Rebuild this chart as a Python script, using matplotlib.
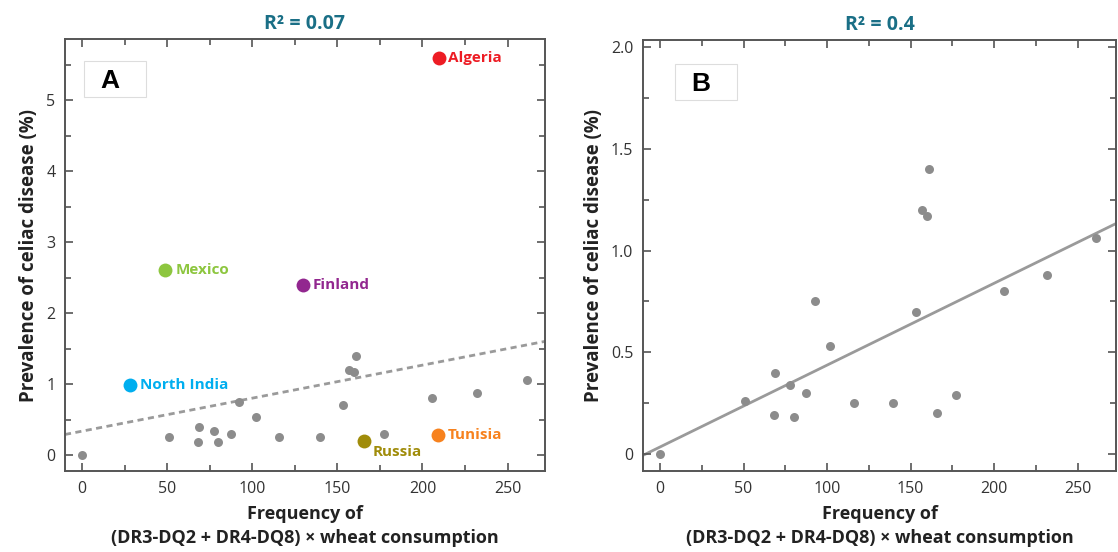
import numpy as np
import matplotlib
matplotlib.use("Agg")
import matplotlib.pyplot as plt
from matplotlib.patches import Rectangle
from matplotlib.ticker import MultipleLocator

plt.rcParams['font.family'] = ['Open Sans', 'DejaVu Sans']

# grey countries (used in both panels)
grey_x = [0, 51, 68, 69, 77.6, 80, 87.5, 92.5, 102, 116, 139.7, 153.5,
          156.7, 159.6, 160.9, 177.4, 205.7, 231.8, 261.3]
grey_y = [0, 0.26, 0.19, 0.40, 0.34, 0.18, 0.30, 0.75, 0.53, 0.25, 0.25, 0.70,
          1.20, 1.17, 1.40, 0.29, 0.80, 0.88, 1.06]

# highlighted countries (panel A)
named = ["Algeria", "Mexico", "Finland", "North India", "Russia", "Tunisia"]
named_x = [209.5, 49, 129.6, 28.1, 165.8, 209.3]
named_y = [5.59, 2.60, 2.40, 0.99, 0.20, 0.285]
named_col = ["#ed1c24", "#8dc63f", "#92278f", "#00aeef", "#a08c0a", "#f7821e"]

# panel B keeps Russia as an ordinary point
b_x = grey_x + [165.8]
b_y = grey_y + [0.20]

# fitted lines as drawn in the figure (intercept, slope)
fit_a = (0.336, 0.00465)
fit_b = (0.035, 0.00402)
r2_a = "0.07"
r2_b = "0.4"

GREY = "#8c8c8c"
SPINE = "#555555"
TEAL = "#1a6f86"

fig = plt.figure(figsize=(11.18, 5.52), dpi=100)
axA = fig.add_axes([65/1118, 81/552, 480/1118, 432/552])
axB = fig.add_axes([643/1118, 81/552, 473/1118, 431/552])


def style(ax):
    for s in ax.spines.values():
        s.set_color(SPINE)
        s.set_linewidth(1.4)
    ax.tick_params(which='both', direction='in', top=True, right=True,
                   color=SPINE, width=1.2, labelsize=11.5, labelcolor='#333333', pad=7)
    ax.tick_params(which='major', length=6)
    ax.tick_params(which='minor', length=4)
    ax.xaxis.set_major_locator(MultipleLocator(50))
    ax.xaxis.set_minor_locator(MultipleLocator(25))
    ax.set_xlabel("Frequency of\n(DR3-DQ2 + DR4-DQ8) × wheat consumption",
                  fontsize=13, fontweight='bold', color='#222222', labelpad=6,
                  linespacing=1.45)
    ax.set_ylabel("Prevalence of celiac disease (%)", fontsize=13.5,
                  fontweight='bold', color='#222222', labelpad=5)


# ---- panel A
style(axA)
axA.set_xlim(-10, 272)
axA.set_ylim(-0.225, 5.86)
axA.yaxis.set_major_locator(MultipleLocator(1))
axA.yaxis.set_minor_locator(MultipleLocator(0.5))
xx = np.array(axA.get_xlim())
axA.plot(xx, fit_a[0] + fit_a[1] * xx, ls=(0, (2.2, 1.6)), color='#9a9a9a', lw=2, zorder=1)
axA.scatter(grey_x, grey_y, s=42, color=GREY, zorder=3, linewidths=0)
for name, x, y, c in zip(named, named_x, named_y, named_col):
    axA.scatter([x], [y], s=100, color=c, zorder=4, linewidths=0)
    if name == "Russia":
        axA.annotate(name, (x, y), xytext=(6, -8), textcoords='offset points',
                     ha='left', va='center', color=c, fontsize=11, fontweight='bold')
    else:
        axA.annotate(name, (x, y), xytext=(7, 0), textcoords='offset points',
                     ha='left', va='center', color=c, fontsize=11, fontweight='bold')
axA.set_title("R² = " + r2_a, fontsize=14, fontweight='bold', color=TEAL, pad=7)

# ---- panel B
style(axB)
axB.set_xlim(-10.2, 273)
axB.set_ylim(-0.083, 2.034)
axB.yaxis.set_major_locator(MultipleLocator(0.5))
axB.yaxis.set_minor_locator(MultipleLocator(0.25))
axB.yaxis.set_major_formatter(plt.FuncFormatter(lambda v, p: "0" if v == 0 else f"{v:.1f}"))
xx = np.array(axB.get_xlim())
axB.plot(xx, fit_b[0] + fit_b[1] * xx, color='#9a9a9a', lw=2, zorder=1)
axB.scatter(b_x, b_y, s=42, color=GREY, zorder=3, linewidths=0)
axB.set_title("R² = " + r2_b, fontsize=14, fontweight='bold', color=TEAL, pad=7)

# panel letters in faint boxes
for ax, letter, (x0, y0) in [(axA, "A", (84, 61)), (axB, "B", (675, 64))]:
    fig.patches.append(Rectangle((x0/1118, 1 - (y0 + 36)/552), 62/1118, 36/552,
                                 transform=fig.transFigure, fill=False,
                                 edgecolor='#dddddd', lw=0.8))
    fig.text((x0 + 26)/1118, 1 - (y0 + 20)/552, letter, fontsize=19, fontweight='bold',
             family=['Liberation Sans', 'DejaVu Sans'], ha='center', va='center', color='black')

fig.savefig("out.png", dpi=100)
